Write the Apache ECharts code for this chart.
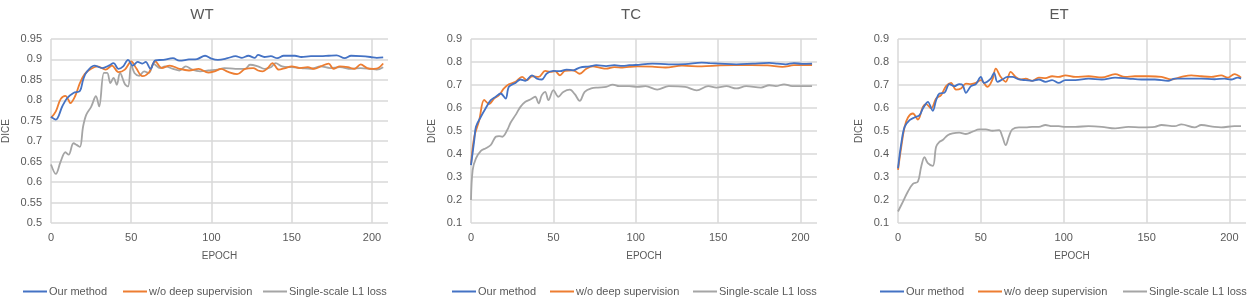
<!DOCTYPE html>
<html>
<head>
<meta charset="utf-8">
<script src="https://cdn.jsdelivr.net/npm/echarts@6/dist/echarts.min.js"></script>
<style>
  html, body { margin: 0; padding: 0; background: #fff; }
  #chart { width: 1248px; height: 298px; }
</style>
</head>
<body>
<div id="chart"></div>
<script>
// [epoch, dice]
var wtOurs = [[0,0.76],[3,0.753],[7,0.785],[10,0.805],[14,0.818],[18,0.823],[20,0.85],[22,0.868],[27,0.885],[32,0.879],[36,0.885],[39,0.891],[42,0.877],[45,0.883],[48,0.899],[51,0.885],[54,0.894],[57,0.89],[59,0.894],[62,0.877],[65,0.898],[70,0.899],[76,0.903],[80,0.897],[86,0.9],[91,0.901],[96,0.909],[100,0.902],[104,0.899],[110,0.903],[115,0.908],[119,0.904],[123,0.909],[127,0.904],[129,0.911],[133,0.906],[137,0.908],[141,0.903],[145,0.909],[152,0.909],[156,0.906],[162,0.908],[168,0.908],[173,0.909],[178,0.91],[183,0.903],[187,0.909],[193,0.908],[199,0.906],[203,0.904],[207,0.905]];
var wtNoDs = [[0,0.757],[3,0.773],[6,0.803],[9,0.811],[11,0.8],[12,0.793],[15,0.81],[18,0.842],[21,0.864],[25,0.877],[29,0.883],[34,0.875],[38,0.885],[42,0.869],[46,0.875],[50,0.895],[53,0.879],[57,0.859],[61,0.868],[65,0.895],[69,0.879],[74,0.885],[80,0.877],[86,0.873],[92,0.877],[98,0.868],[102,0.871],[106,0.877],[110,0.87],[116,0.864],[121,0.877],[126,0.879],[129,0.873],[132,0.871],[135,0.879],[138,0.891],[142,0.875],[146,0.879],[150,0.883],[155,0.879],[160,0.881],[164,0.877],[168,0.883],[173,0.89],[176,0.877],[180,0.883],[185,0.881],[189,0.877],[193,0.888],[197,0.879],[201,0.877],[204,0.879],[207,0.89]];
var wtL1 = [[0,0.643],[3,0.62],[6,0.65],[9,0.673],[11,0.667],[14,0.695],[16,0.691],[18,0.686],[20,0.736],[22,0.765],[25,0.784],[28,0.81],[30,0.785],[33,0.867],[35,0.867],[37,0.842],[39,0.855],[41,0.838],[43,0.867],[46,0.84],[48,0.834],[50,0.887],[52,0.867],[55,0.86],[58,0.871],[61,0.867],[64,0.889],[68,0.879],[71,0.883],[76,0.877],[80,0.873],[84,0.883],[88,0.875],[93,0.871],[98,0.873],[104,0.875],[108,0.879],[115,0.877],[121,0.877],[124,0.887],[129,0.883],[133,0.877],[137,0.881],[140,0.891],[144,0.883],[150,0.881],[156,0.879],[162,0.877],[168,0.883],[174,0.879],[180,0.881],[187,0.877],[193,0.879],[199,0.877],[203,0.875],[207,0.881]];

var tcOurs = [[0,0.352],[2,0.461],[3,0.518],[6,0.562],[9,0.6],[12,0.634],[15,0.649],[18,0.663],[21,0.641],[23,0.692],[27,0.709],[30,0.724],[33,0.718],[37,0.742],[40,0.728],[43,0.724],[46,0.75],[50,0.761],[54,0.76],[58,0.767],[62,0.764],[66,0.776],[72,0.781],[76,0.786],[82,0.782],[87,0.786],[92,0.783],[96,0.786],[100,0.787],[110,0.793],[120,0.79],[130,0.791],[140,0.797],[145,0.795],[151,0.793],[161,0.79],[171,0.793],[181,0.796],[186,0.793],[191,0.79],[196,0.795],[201,0.792],[207,0.793]];
var tcNoDs = [[0,0.352],[2,0.475],[5,0.547],[8,0.635],[11,0.617],[14,0.641],[17,0.656],[20,0.685],[23,0.703],[27,0.714],[31,0.735],[34,0.721],[37,0.738],[41,0.735],[45,0.761],[48,0.757],[51,0.76],[54,0.742],[57,0.761],[62,0.764],[66,0.749],[70,0.771],[74,0.781],[78,0.776],[82,0.771],[87,0.778],[92,0.776],[96,0.779],[101,0.781],[110,0.78],[118,0.776],[128,0.784],[140,0.781],[151,0.785],[160,0.786],[170,0.786],[180,0.785],[189,0.779],[196,0.786],[207,0.787]];
var tcL1 = [[0,0.2],[1,0.33],[3,0.381],[6,0.414],[9,0.425],[12,0.439],[15,0.475],[17,0.478],[19,0.475],[22,0.504],[24,0.536],[27,0.569],[30,0.605],[33,0.627],[36,0.637],[39,0.649],[41,0.62],[43,0.656],[45,0.67],[47,0.634],[50,0.678],[53,0.649],[56,0.67],[60,0.68],[63,0.66],[66,0.631],[69,0.67],[73,0.685],[77,0.689],[82,0.692],[86,0.702],[90,0.695],[96,0.695],[101,0.692],[106,0.695],[113,0.68],[120,0.695],[130,0.692],[137,0.677],[144,0.695],[149,0.689],[155,0.695],[161,0.685],[167,0.695],[176,0.689],[181,0.699],[185,0.695],[190,0.703],[195,0.695],[201,0.695],[207,0.695]];

var etOurs = [[0,0.338],[2,0.447],[4,0.518],[7,0.547],[10,0.559],[13,0.569],[15,0.598],[17,0.62],[18,0.627],[21,0.588],[23,0.634],[25,0.663],[28,0.666],[31,0.704],[34,0.695],[37,0.704],[39,0.7],[41,0.666],[44,0.695],[47,0.704],[50,0.735],[52,0.709],[56,0.728],[58,0.753],[60,0.714],[63,0.724],[66,0.735],[69,0.735],[73,0.724],[77,0.721],[81,0.718],[85,0.724],[89,0.714],[93,0.721],[97,0.709],[101,0.721],[107,0.721],[115,0.728],[123,0.724],[131,0.732],[139,0.728],[147,0.724],[155,0.724],[163,0.718],[167,0.728],[175,0.728],[183,0.728],[191,0.725],[197,0.728],[201,0.724],[205,0.732],[207,0.728]];
var etNoDs = [[0,0.331],[2,0.432],[4,0.518],[6,0.559],[9,0.576],[12,0.55],[15,0.605],[17,0.617],[20,0.598],[23,0.641],[26,0.656],[29,0.695],[32,0.709],[35,0.68],[38,0.685],[41,0.706],[44,0.704],[47,0.709],[50,0.721],[54,0.692],[57,0.724],[59,0.771],[62,0.735],[65,0.714],[68,0.757],[71,0.735],[74,0.724],[77,0.728],[81,0.718],[85,0.732],[89,0.73],[93,0.738],[97,0.735],[101,0.742],[107,0.735],[115,0.738],[123,0.733],[131,0.747],[137,0.735],[143,0.738],[151,0.738],[159,0.735],[165,0.724],[171,0.735],[177,0.742],[183,0.738],[189,0.735],[195,0.742],[199,0.732],[203,0.747],[207,0.732]];
var etL1 = [[0,0.15],[3,0.193],[6,0.237],[9,0.27],[12,0.28],[14,0.345],[16,0.386],[18,0.36],[21,0.348],[23,0.432],[25,0.453],[27,0.461],[30,0.482],[33,0.49],[37,0.493],[41,0.487],[45,0.497],[49,0.507],[53,0.507],[57,0.501],[61,0.504],[63,0.475],[65,0.439],[67,0.478],[69,0.507],[73,0.516],[77,0.516],[81,0.518],[85,0.518],[89,0.526],[93,0.521],[97,0.521],[101,0.518],[107,0.518],[115,0.521],[123,0.518],[131,0.511],[139,0.518],[147,0.516],[155,0.518],[159,0.526],[167,0.521],[171,0.529],[179,0.516],[183,0.526],[191,0.518],[195,0.516],[203,0.521],[207,0.521]];

var panelTitles = ['WT', 'TC', 'ET'];
var seriesNames = ['Our method', 'w/o deep supervision', 'Single-scale L1 loss'];
var yMin = [0.5, 0.1, 0.1];
var yMax = [0.95, 0.9, 0.9];
var yStep = [0.05, 0.1, 0.1];
var panelData = [[wtOurs, wtNoDs, wtL1], [tcOurs, tcNoDs, tcL1], [etOurs, etNoDs, etL1]];

var colors = ['#4472C4', '#ED7D31', '#A5A5A5'];
var font = 'Liberation Sans';
var txt = '#595959';
var gridColor = '#D9D9D9';

// layout per panel
var grids = [
  { left: 49, width: 339 },
  { left: 471, width: 346 },
  { left: 898, width: 348 }
];
var titleX = [197, 626, 1054];
var nameGapY = [40, 34, 34];
var legendLeft = [[18, 118, 258], [447, 545, 688], [875, 973, 1118]];

var chart = echarts.init(document.getElementById('chart'));

var option = {
  backgroundColor: '#fff',
  animation: false,
  textStyle: { fontFamily: font },
  title: [],
  legend: [],
  grid: [],
  xAxis: [],
  yAxis: [],
  series: []
};

for (var p = 0; p < 3; p++) {
  option.title.push({
    text: panelTitles[p],
    left: titleX[p],
    top: 2,
    textAlign: 'center',
    textStyle: { fontFamily: font, fontSize: 15, fontWeight: 'normal', color: txt }
  });
  option.grid.push({ left: grids[p].left, width: grids[p].width, top: 39, height: 184 });
  option.xAxis.push({
    type: 'value',
    gridIndex: p,
    min: 0,
    max: 210,
    interval: 50,
    name: 'EPOCH',
    nameLocation: 'middle',
    nameGap: 28,
    nameTextStyle: { fontFamily: font, fontSize: 10, color: txt },
    axisLine: { show: false },
    axisTick: { show: false },
    axisLabel: { fontFamily: font, fontSize: 11, color: txt, margin: 9, showMaxLabel: false },
    splitLine: { show: true, showMaxLine: false, lineStyle: { color: gridColor, width: 1.5 } }
  });
  option.yAxis.push({
    type: 'value',
    gridIndex: p,
    min: yMin[p],
    max: yMax[p],
    interval: yStep[p],
    name: 'DICE',
    nameLocation: 'middle',
    nameGap: nameGapY[p],
    nameTextStyle: { fontFamily: font, fontSize: 10, color: txt },
    axisLine: { show: false },
    axisTick: { show: false },
    axisLabel: { fontFamily: font, fontSize: 11, color: txt, margin: 9 },
    splitLine: { show: true, lineStyle: { color: gridColor, width: 1.5 } }
  });
  for (var s = 0; s < 3; s++) {
    option.series.push({
      name: seriesNames[s],
      type: 'line',
      xAxisIndex: p,
      yAxisIndex: p,
      data: panelData[p][s],
      smooth: 0.35,
      symbol: 'none',
      lineStyle: { color: colors[s], width: 1.8 },
      itemStyle: { color: colors[s] },
      z: 5 - s
    });
    option.legend.push({
      left: legendLeft[p][s],
      top: 281,
      data: [seriesNames[s]],
      icon: 'rect',
      itemWidth: 24,
      itemHeight: 2,
      textStyle: { fontFamily: font, fontSize: 11, color: txt, padding: [0, 0, 0, -3] },
      selectedMode: false
    });
  }
}

chart.setOption(option);
</script>
</body>
</html>
